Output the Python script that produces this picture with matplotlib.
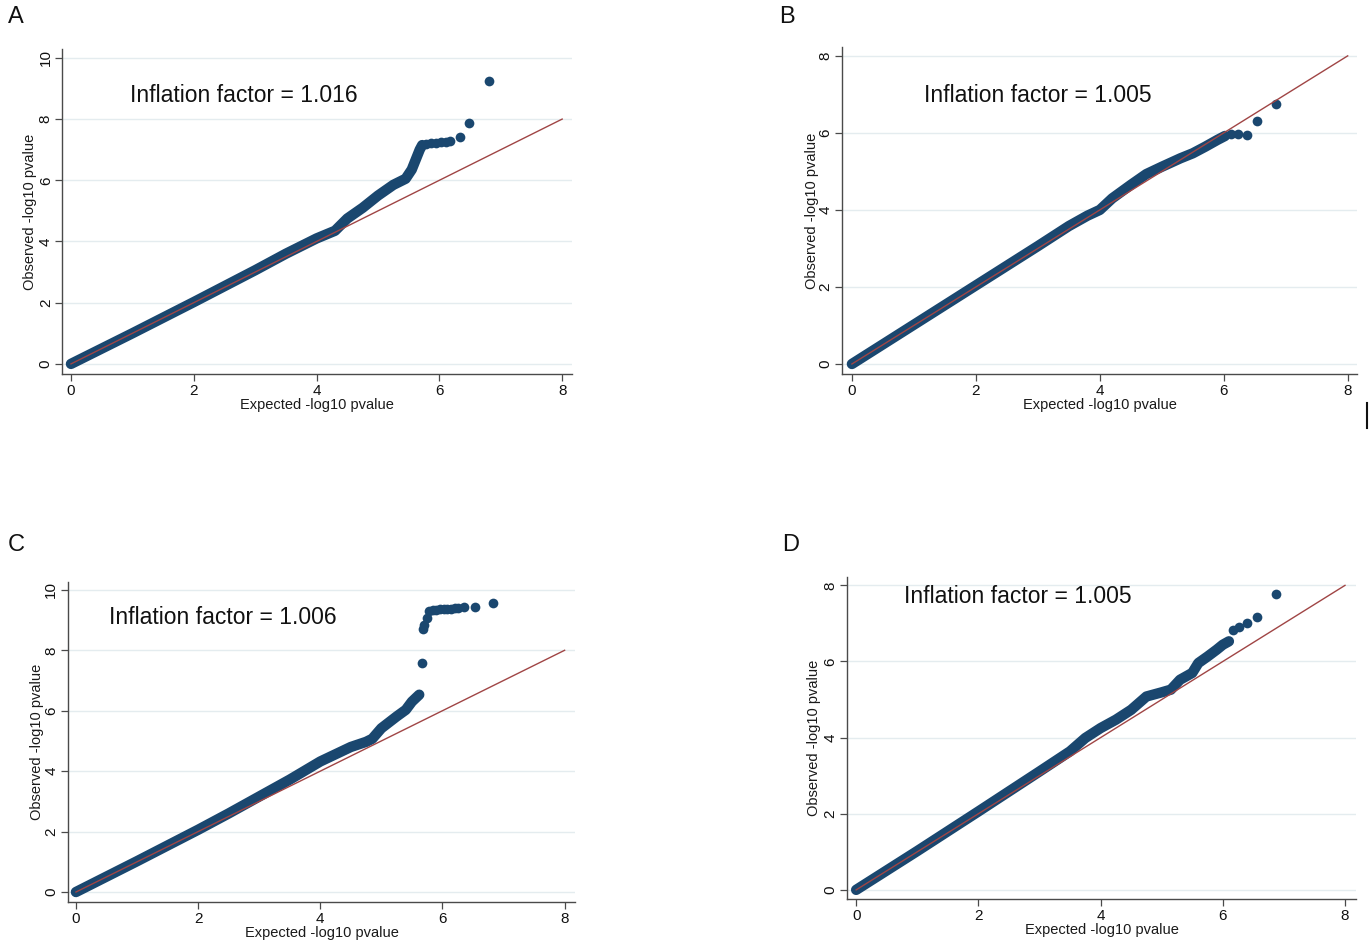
import matplotlib
matplotlib.use("Agg")
import matplotlib.pyplot as plt
from matplotlib.lines import Line2D

plt.rcParams['font.family'] = ['Liberation Sans', 'DejaVu Sans']

# ---------------- data ----------------
panel_labels = ["A", "B", "C", "D"]
inflation_texts = ["Inflation factor = 1.016", "Inflation factor = 1.005",
                   "Inflation factor = 1.006", "Inflation factor = 1.005"]
x_label = "Expected -log10 pvalue"
y_label = "Observed -log10 pvalue"
diag = [0, 8]

xticks = [0, 2, 4, 6, 8]
yticks_A = [0, 2, 4, 6, 8, 10]
yticks_B = [0, 2, 4, 6, 8]
yticks_C = [0, 2, 4, 6, 8, 10]
yticks_D = [0, 2, 4, 6, 8]

# dense part of each QQ curve (drawn as a thick band)
A_band_x = [0, 1, 2, 3, 3.5, 4.0, 4.3, 4.5, 4.75, 5.0, 5.25, 5.45, 5.55, 5.62, 5.68, 5.72]
A_band_y = [0, 1.0, 2.02, 3.06, 3.6, 4.1, 4.35, 4.75, 5.1, 5.5, 5.85, 6.05, 6.35, 6.7, 7.0, 7.15]
# sparse tail (individual points)
A_tail_x = [5.78, 5.86, 5.94, 6.02, 6.1, 6.18, 6.34, 6.48, 6.81]
A_tail_y = [7.2, 7.22, 7.23, 7.24, 7.25, 7.27, 7.43, 7.87, 9.25]

B_band_x = [0, 1, 2, 3, 3.5, 3.8, 4.0, 4.2, 4.5, 4.75, 5.0, 5.3, 5.5, 5.7, 5.9, 6.02]
B_band_y = [0, 1.02, 2.04, 3.06, 3.58, 3.85, 4.0, 4.3, 4.65, 4.93, 5.12, 5.34, 5.47, 5.64, 5.82, 5.92]
B_tail_x = [6.11, 6.23, 6.37, 6.54, 6.85]
B_tail_y = [5.96, 5.96, 5.95, 6.32, 6.74]

C_band_x = [0, 1, 2, 2.5, 3, 3.5, 4, 4.5, 4.75, 4.85, 5.0, 5.25, 5.4, 5.5, 5.62]
C_band_y = [0, 1.02, 2.06, 2.6, 3.16, 3.72, 4.32, 4.8, 4.97, 5.07, 5.42, 5.81, 6.03, 6.3, 6.53]
C_tail_x = [5.66, 5.68, 5.7, 5.74, 5.78, 5.84, 5.9, 5.96, 6.02, 6.08, 6.14, 6.2, 6.25, 6.35, 6.53, 6.83]
C_tail_y = [7.58, 8.7, 8.84, 9.06, 9.3, 9.33, 9.34, 9.35, 9.36, 9.37, 9.38, 9.39, 9.4, 9.42, 9.42, 9.58]

D_band_x = [0, 1, 2, 3, 3.5, 3.75, 4.0, 4.25, 4.5, 4.75, 5.0, 5.15, 5.3, 5.5, 5.6, 5.75, 5.9, 6.0, 6.1]
D_band_y = [0, 1.02, 2.06, 3.11, 3.64, 3.99, 4.25, 4.47, 4.73, 5.08, 5.19, 5.26, 5.52, 5.7, 5.96, 6.13, 6.31, 6.44, 6.53]
D_tail_x = [6.16, 6.27, 6.4, 6.56, 6.87]
D_tail_y = [6.84, 6.91, 7.01, 7.17, 7.77]

# ---------------- layout / style ----------------
W, H = 1372, 946
fig = plt.figure(figsize=(W / 100, H / 100), dpi=100)
fig.patch.set_facecolor("white")

NAVY = "#1a476f"
MAROON = "#a04545"
GRID = "#e4ecef"
SPINE = "#4a4a4a"

# pixel boxes: left, right, top, bottom
panels = [
    dict(box=(62.5, 572, 49, 374), xlim=(-0.138, 8.16), ylim=(-0.33, 10.29), yt=yticks_A,
         bx=A_band_x, by=A_band_y, tx=A_tail_x, ty=A_tail_y,
         lab=(8, 17), txt=(130, 96), ylab_x=30, xlab_y=405),
    dict(box=(842, 1357, 47, 374), xlim=(-0.16, 8.15), ylim=(-0.26, 8.23), yt=yticks_B,
         bx=B_band_x, by=B_band_y, tx=B_tail_x, ty=B_tail_y,
         lab=(779, 17), txt=(924, 96), ylab_x=812, xlab_y=405),
    dict(box=(68, 575, 582, 902), xlim=(-0.13, 8.17), ylim=(-0.33, 10.26), yt=yticks_C,
         bx=C_band_x, by=C_band_y, tx=C_tail_x, ty=C_tail_y,
         lab=(8, 545), txt=(109, 617), ylab_x=37, xlab_y=933),
    dict(box=(847, 1356, 577, 899), xlim=(-0.15, 8.18), ylim=(-0.24, 8.22), yt=yticks_D,
         bx=D_band_x, by=D_band_y, tx=D_tail_x, ty=D_tail_y,
         lab=(782, 545), txt=(904, 596), ylab_x=814, xlab_y=930),
]

for i, p in enumerate(panels):
    l, r, t, b = p["box"]
    ax = fig.add_axes([l / W, 1 - b / H, (r - l) / W, (b - t) / H])
    ax.set_xlim(*p["xlim"])
    ax.set_ylim(*p["ylim"])
    ax.set_xticks(xticks)
    ax.set_yticks(p["yt"])
    ax.set_yticklabels([str(v) for v in p["yt"]], rotation=90, va="center")
    ax.tick_params(axis="both", labelsize=11, length=5, width=0.9, color=SPINE,
                   labelcolor="#111111", pad=2)
    for s in ["top", "right"]:
        ax.spines[s].set_visible(False)
    for s in ["left", "bottom"]:
        ax.spines[s].set_color(SPINE)
        ax.spines[s].set_linewidth(1.0)
    ax.yaxis.grid(True, color=GRID, linewidth=1.0)
    ax.set_axisbelow(True)

    ax.plot(p["bx"], p["by"], color=NAVY, lw=7.5, solid_capstyle="round",
            solid_joinstyle="round", zorder=2)
    ax.plot(p["tx"], p["ty"], linestyle="none", marker="o", ms=7, color=NAVY,
            markeredgewidth=0, zorder=2)
    ax.plot(diag, diag, color=MAROON, lw=1.0, zorder=3)

    ax.set_xlabel(x_label, fontsize=10.5, color="#1a1a1a")
    ax.set_ylabel(y_label, fontsize=10.5, color="#1a1a1a")
    ax.yaxis.label.set_va("center")
    ax.xaxis.label.set_va("center")
    ax.yaxis.set_label_coords((p["ylab_x"] - l) / (r - l), 0.5)
    ax.xaxis.set_label_coords(0.5, -(p["xlab_y"] - b) / (b - t))

    tx, ty = p["txt"]
    fig.text(tx / W, 1 - ty / H, inflation_texts[i], fontsize=16.5, ha="left",
             va="center", color="#111111")
    lx, ly = p["lab"]
    fig.text(lx / W, 1 - ly / H, panel_labels[i], fontsize=17, ha="left",
             va="center", color="#111111")

# small vertical mark at right edge
fig.add_artist(Line2D([1367 / W, 1367 / W], [1 - 403 / H, 1 - 428 / H],
                      color="#111111", lw=1.5, transform=fig.transFigure))

fig.savefig("out.png", dpi=100, facecolor="white")
